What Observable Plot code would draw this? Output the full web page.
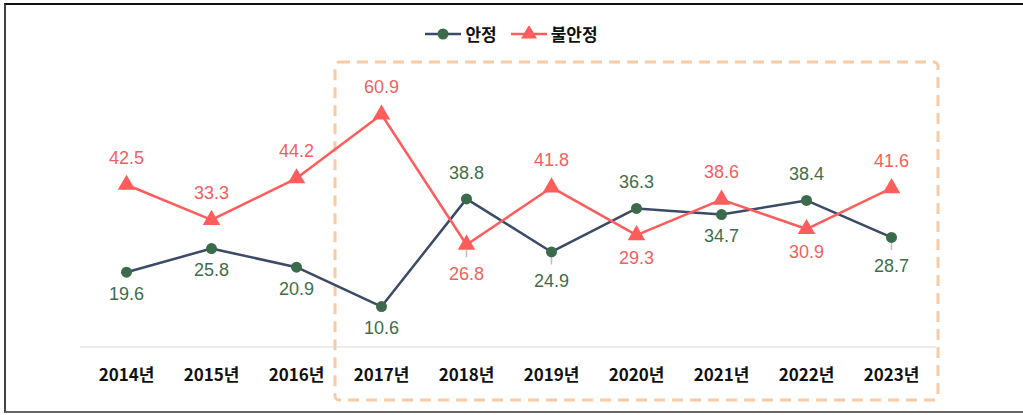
<!DOCTYPE html>
<html>
<head>
<meta charset="utf-8">
<script src="https://cdn.jsdelivr.net/npm/d3@7"></script>
<script src="https://cdn.jsdelivr.net/npm/@observablehq/plot@0.6"></script>
<style>
  body { margin: 0; background: #fff; }
  #wrap { position: relative; width: 1023px; height: 415px; overflow: hidden; font-family: "Liberation Sans", "Noto Sans CJK KR", sans-serif; }
  #frame { position: absolute; left: 4px; top: 3px; width: 1030px; height: 406px; border-top: 2px solid #111; border-left: 2px solid #444; border-bottom: 2px solid #666; pointer-events: none; }
  #legend { position: absolute; top: 21px; left: 0; width: 1023px; display: flex; justify-content: center; gap: 14px; font-weight: bold; font-size: 17px; color: #111; font-family: "Noto Sans CJK KR", sans-serif; }
  .item { display: flex; align-items: center; gap: 4px; }
  #chart { position: absolute; left: 0; top: 0; }
</style>
</head>
<body>
<div id="wrap">
  <div id="chart"></div>
  <div id="legend"></div>
  <div id="frame"></div>
</div>
<script>
const years = ["2014년","2015년","2016년","2017년","2018년","2019년","2020년","2021년","2022년","2023년"];
const stable = [19.6, 25.8, 20.9, 10.6, 38.8, 24.9, 36.3, 34.7, 38.4, 28.7];
const unstable = [42.5, 33.3, 44.2, 60.9, 26.8, 41.8, 29.3, 38.6, 30.9, 41.6];
const stableLabelSide = ["below","below","below","below","above","leader","above","below","above","leader"];
const unstableLabelSide = ["above","above","above","above","leader","above","below","above","below","above"];
const seriesNames = ["안정", "불안정"];
const highlightYears = ["2017년", "2023년"];

const lineStable = "#3B4A66", dotStable = "#3C6B4B", txtStable = "#3E6E4C";
const lineUnstable = "#FF5C5C", txtUnstable = "#F25F5F";

const sData = years.map((y, i) => ({year: y, v: stable[i], side: stableLabelSide[i]}));
const uData = years.map((y, i) => ({year: y, v: unstable[i], side: unstableLabelSide[i]}));

const font = "Liberation Sans, Noto Sans CJK KR, sans-serif";
const lbl = (data, side, dy, fill) => Plot.text(data.filter(d => d.side === side),
  {x: "year", y: "v", text: d => d.v.toFixed(1), dy, fill, fontSize: 18});
const leader = (data) => Plot.ruleX(data.filter(d => d.side === "leader"),
  {x: "year", y1: "v", y2: "v", insetTop: 6, insetBottom: -13, stroke: "#bdbdbd", strokeWidth: 1.5});

const chart = Plot.plot({
  width: 1023,
  height: 415,
  marginLeft: 80,
  marginRight: 87,
  marginTop: 79.3,
  marginBottom: 68.5,
  style: {fontFamily: font, background: "transparent"},
  x: {type: "point", domain: years, padding: 0.5, label: null},
  y: {domain: [0, 70], axis: null},
  marks: [
    Plot.rect([{}], {x1: () => highlightYears[0], x2: () => highlightYears[1], y1: -14, y2: 74.5,
      insetLeft: -46, insetRight: -47, stroke: "#F8CBA6", strokeWidth: 3, strokeDasharray: "11,7", fill: "none", rx: 4, clip: false}),
    Plot.ruleY([0], {stroke: "#d9d9d9", strokeWidth: 1}),
    Plot.axisX({tickSize: 0, tickPadding: 22, fontSize: 17, fontWeight: "bold", fill: "#111", fontFamily: "Noto Sans CJK KR, sans-serif"}),
    leader(sData),
    leader(uData),
    Plot.lineY(sData, {x: "year", y: "v", stroke: lineStable, strokeWidth: 2.5}),
    Plot.lineY(uData, {x: "year", y: "v", stroke: lineUnstable, strokeWidth: 2.5}),
    Plot.dot(sData, {x: "year", y: "v", r: 5.5, fill: dotStable, stroke: "none"}),
    Plot.dot(uData, {x: "year", y: "v", r: 6.5, symbol: "triangle", fill: lineUnstable, stroke: "none"}),
    lbl(sData, "above", -26, txtStable),
    lbl(sData, "below", 22, txtStable),
    lbl(sData, "leader", 29, txtStable),
    lbl(uData, "above", -27, txtUnstable),
    lbl(uData, "below", 23, txtUnstable),
    lbl(uData, "leader", 30, txtUnstable)
  ]
});
document.getElementById("chart").appendChild(chart);

// legend
const legend = document.getElementById("legend");
const makeItem = (name, color, markColor, shape) => {
  const it = document.createElement("div");
  it.className = "item";
  const svg = d3.create("svg").attr("width", 36).attr("height", 16);
  svg.append("line").attr("x1", 0).attr("x2", 36).attr("y1", 8).attr("y2", 8).attr("stroke", color).attr("stroke-width", 2.5);
  if (shape === "circle") svg.append("circle").attr("cx", 18).attr("cy", 8).attr("r", 5.5).attr("fill", markColor);
  else svg.append("path").attr("transform", "translate(18,8)").attr("d", d3.symbol(d3.symbolTriangle, 110)()).attr("fill", markColor);
  it.appendChild(svg.node());
  const t = document.createElement("span");
  t.textContent = name;
  it.appendChild(t);
  legend.appendChild(it);
};
makeItem(seriesNames[0], lineStable, dotStable, "circle");
makeItem(seriesNames[1], lineUnstable, lineUnstable, "triangle");
</script>
</body>
</html>
